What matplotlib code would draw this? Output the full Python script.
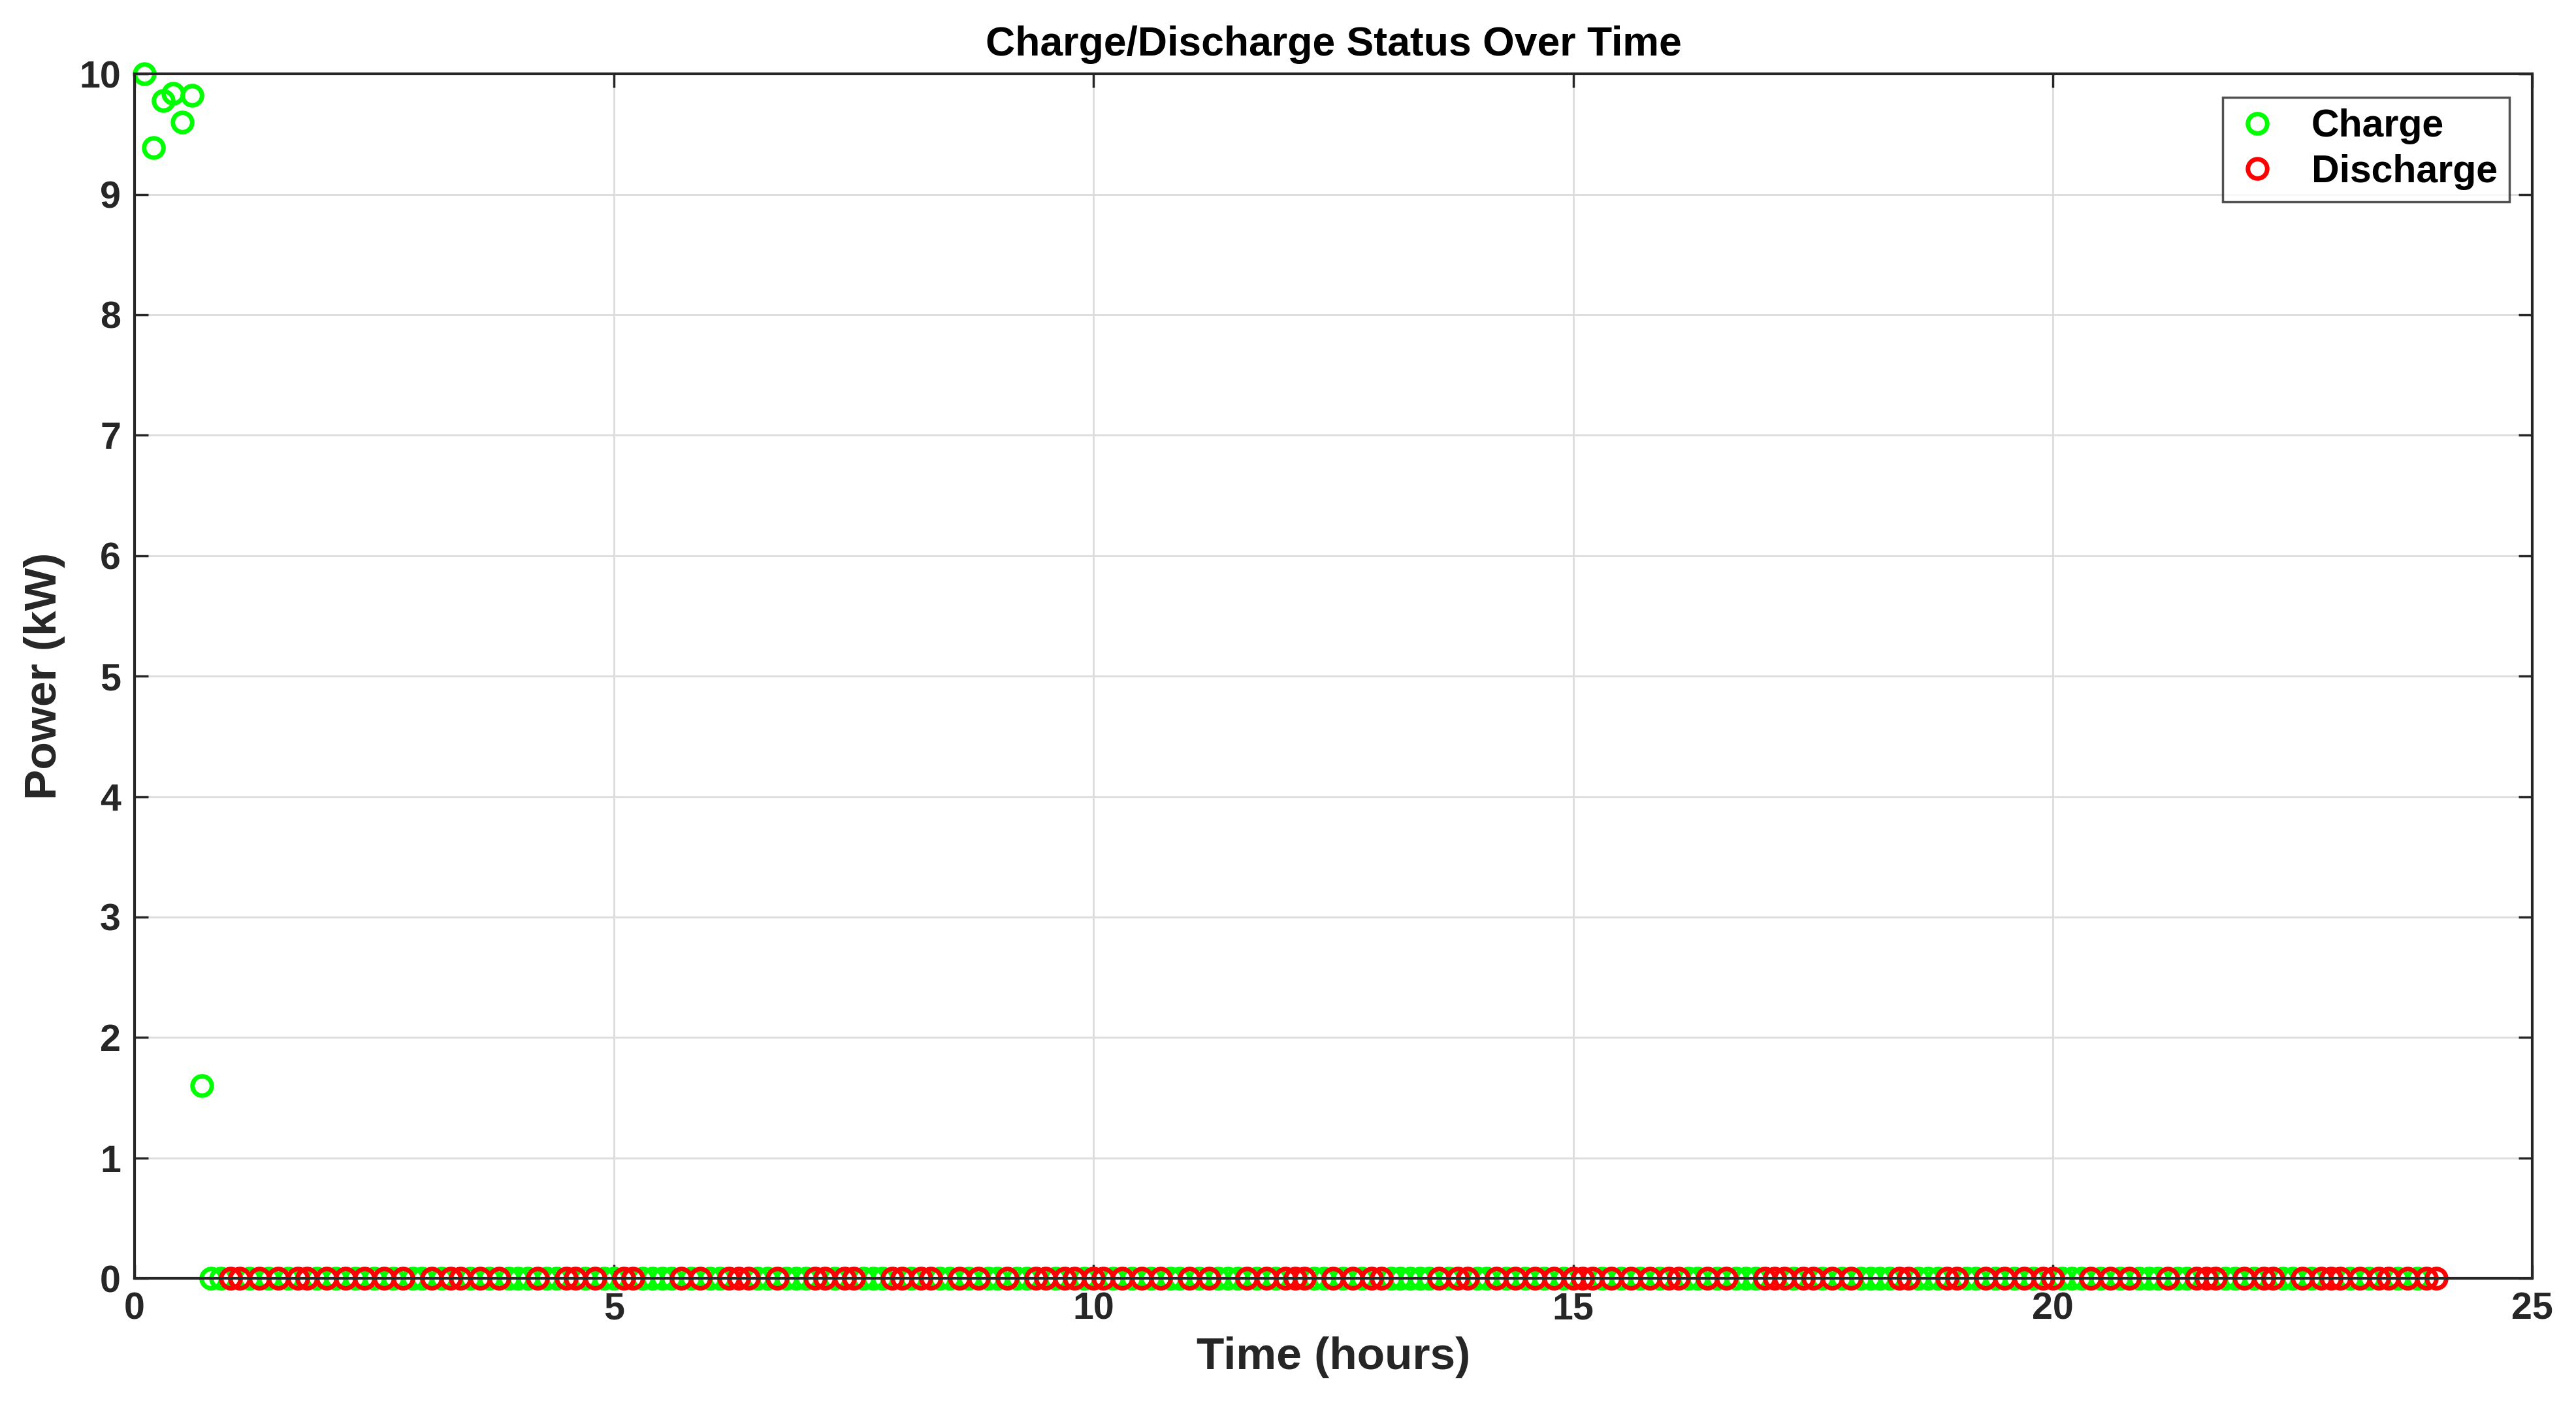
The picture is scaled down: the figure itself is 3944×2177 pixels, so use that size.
import numpy as np
import matplotlib.pyplot as plt

# time steps of 0.1 h, 1..240
steps = np.arange(1, 241)
time_h = steps * 0.1

# charge power for the first 7 steps, rest zero
charge_start = [10.0, 9.39, 9.78, 9.84, 9.6, 9.82, 1.6]

# steps where the battery discharges (power plotted at 0)
discharge_steps = [10, 11, 13, 15, 17, 18, 20, 22, 24, 26, 28, 31, 33, 34, 36, 38, 42, 45, 46, 48,
                   51, 52, 57, 59, 62, 63, 64, 67, 71, 72, 74, 75, 79, 80, 82, 83, 86, 88, 91, 94,
                   95, 97, 98, 100, 101, 103, 105, 107, 110, 112, 116, 118, 120, 121, 122, 125, 127,
                   129, 130, 136, 138, 139, 142, 144, 146, 148, 150, 151, 152, 154, 156, 158, 160,
                   161, 164, 166, 170, 171, 172, 174, 175, 177, 179, 184, 185, 189, 190, 193, 195,
                   197, 199, 200, 204, 206, 208, 212, 215, 216, 217, 220, 222, 223, 226, 228, 229,
                   230, 232, 234, 235, 237, 239, 240]

charge = np.zeros(len(steps))
charge[:len(charge_start)] = charge_start
is_dis = np.isin(steps, discharge_steps)

plt.rcParams['font.family'] = ['Liberation Sans', 'DejaVu Sans']
plt.rcParams['font.weight'] = 'bold'

fig = plt.figure(figsize=(15.776, 8.708), dpi=250)
ax = fig.add_axes([0.0522, 0.101, 0.9308, 0.847])

ax.plot(time_h[~is_dis], charge[~is_dis], 'o', color=(0, 1, 0), mfc='none', ms=8.5, mew=2,
        label='Charge', clip_on=False)
ax.plot(time_h[is_dis], np.zeros(is_dis.sum()), 'o', color=(1, 0, 0), mfc='none', ms=8.5, mew=2,
        label='Discharge', clip_on=False)

ax.set_xlim(0, 25)
ax.set_ylim(0, 10)
ax.set_xticks(range(0, 26, 5))
ax.set_yticks(range(0, 11))
ax.grid(True, color='#dcdcdc', linewidth=0.8)
ax.set_axisbelow(True)
ax.tick_params(direction='in', top=True, right=True, labelsize=16.5, length=6, width=1,
               colors='#262626', pad=6)
for s in ax.spines.values():
    s.set_color('#262626')
    s.set_linewidth(1.2)
for lb in ax.get_xticklabels() + ax.get_yticklabels():
    lb.set_fontweight('bold')
    lb.set_color('#262626')

ax.set_title('Charge/Discharge Status Over Time', fontsize=18, fontweight='bold', pad=8)
ax.set_xlabel('Time (hours)', fontsize=20, fontweight='bold', color='#262626', labelpad=4)
ax.set_ylabel('Power (kW)', fontsize=20, fontweight='bold', color='#262626', labelpad=6)

leg = ax.legend(loc='upper right', fontsize=17, frameon=True, fancybox=False, edgecolor='#262626',
                borderaxespad=0.6, handletextpad=0.8, labelspacing=0.25, handlelength=1.2,
                borderpad=0.3)
leg.get_frame().set_linewidth(1.0)

fig.savefig('out.png', dpi=250)
